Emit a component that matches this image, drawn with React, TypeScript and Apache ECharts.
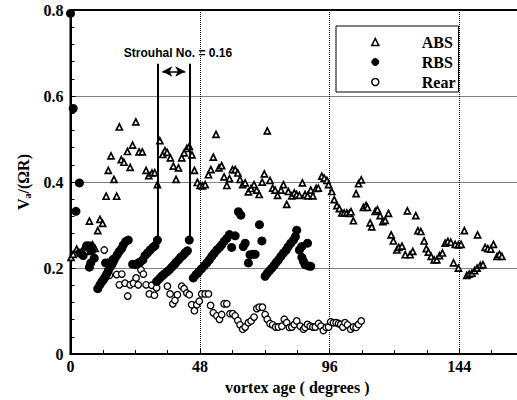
import React, { useEffect, useRef } from "react";
import * as echarts from "echarts";

// vortex age (degrees), Va/(ΩR)
const ABS: [number, number][] = [
  [0.2,0.225],[1.0,0.232],[2.3,0.244],[4.5,0.242],[5.7,0.239],[7.0,0.309],[8.2,0.254],[9.1,0.246],[10.1,0.287],[10.9,0.313],[11.9,0.304],[13.2,0.367],[14.0,0.427],[15.0,0.461],[16.1,0.406],[17.1,0.367],[18.1,0.528],[18.8,0.452],[19.8,0.446],[21.1,0.471],[22.1,0.434],[23.0,0.486],[24.2,0.540],[25.4,0.470],[26.6,0.470],[28.0,0.427],[29.0,0.415],[30.2,0.421],[31.2,0.422],[32.2,0.394],[33.1,0.496],[34.2,0.464],[35.0,0.473],[35.8,0.469],[37.0,0.456],[38.1,0.437],[39.1,0.406],[40.0,0.433],[41.2,0.456],[42.1,0.468],[43.1,0.478],[44.0,0.483],[45.0,0.463],[45.9,0.427],[47.0,0.399],
  [48.0,0.392],[48.9,0.391],[49.9,0.394],[51.1,0.417],[52.0,0.429],[52.9,0.458],[53.9,0.511],[55.0,0.433],[56.0,0.438],[56.9,0.412],[57.9,0.392],[58.9,0.408],[60.0,0.429],[61.0,0.429],[62.0,0.421],[62.8,0.406],[63.8,0.394],[64.7,0.398],[65.9,0.377],[66.9,0.385],[68.0,0.394],[69.0,0.381],[69.9,0.371],[71.0,0.400],[71.8,0.419],[72.9,0.519],[73.9,0.404],[74.9,0.386],[75.8,0.381],[76.7,0.369],[78.0,0.381],[78.9,0.394],[80.1,0.348],[80.7,0.378],[82.0,0.368],[82.9,0.375],[83.8,0.371],[84.8,0.369],[85.9,0.398],[86.9,0.371],[87.8,0.368],[89.0,0.381],[89.8,0.368],[91.0,0.385],[91.8,0.386],[93.1,0.414],[94.0,0.409],[95.0,0.404],[95.6,0.394],
  [96.8,0.378],[97.7,0.359],[98.7,0.345],[99.6,0.338],[100.5,0.328],[101.4,0.328],[102.4,0.328],[103.3,0.327],[103.9,0.331],[104.8,0.310],[105.8,0.373],[106.7,0.396],[107.7,0.405],[108.5,0.341],[109.5,0.346],[110.0,0.341],[111.0,0.305],[111.6,0.296],[112.9,0.332],[113.7,0.336],[114.7,0.322],[115.7,0.308],[116.6,0.311],[117.8,0.327],[118.8,0.277],[119.6,0.263],[120.9,0.242],[121.6,0.248],[122.8,0.251],[124.0,0.231],[124.8,0.333],[125.8,0.231],[126.8,0.239],[127.9,0.322],[128.7,0.287],[129.8,0.285],[131.0,0.263],[131.8,0.245],[132.6,0.237],[133.6,0.227],[134.7,0.219],[135.7,0.219],[136.7,0.229],[137.8,0.235],[138.8,0.258],[139.8,0.262],[140.9,0.260],[141.9,0.212],[142.5,0.255],[143.7,0.254],[143.7,0.200],[144.7,0.255],[145.9,0.287],[146.8,0.183],[147.7,0.186],[148.7,0.188],[149.7,0.194],[150.6,0.200],[150.8,0.277],[151.8,0.206],[152.8,0.208],[153.6,0.248],[154.6,0.245],[155.7,0.244],[156.7,0.255],[158.0,0.227],[158.9,0.232],[159.8,0.227]
];

const RBS: [number, number][] = [
  [0,0.792],[1,0.571],[2.0,0.332],[3.3,0.398],
  [3.5,0.235],[4.7,0.229],[6.0,0.252],[7.0,0.252],[7.9,0.240],[8.8,0.223],[7.5,0.212],[7.0,0.202],
  [10.1,0.152],[10.9,0.161],[11.6,0.168],[12.2,0.173],[12.8,0.179],[13.4,0.186],[14.0,0.194],[14.6,0.202],[15.3,0.208],[15.9,0.215],[16.5,0.223],[17.3,0.231],[18.1,0.239],[19.0,0.246],[19.6,0.254],[20.5,0.262],[21.4,0.265],[13.0,0.212],[14.5,0.213],[15.8,0.220],
  [23.0,0.209],[24.2,0.208],[25.1,0.212],[25.8,0.214],[26.8,0.219],[27.6,0.229],[28.5,0.235],[29.5,0.242],[30.5,0.248],[31.3,0.252],[32.2,0.265],
  [31.9,0.169],[32.9,0.175],[33.8,0.181],[34.7,0.186],[35.7,0.191],[36.6,0.196],[37.5,0.202],[38.4,0.208],[39.1,0.213],[40.0,0.219],[40.8,0.225],[41.6,0.229],[42.4,0.235],[43.3,0.240],[44.0,0.265],
  [45.5,0.177],[46.5,0.185],[47.5,0.191],[48.5,0.198],[49.5,0.205],[50.5,0.212],[51.4,0.219],[52.3,0.227],[53.2,0.234],[54.2,0.242],[55.2,0.248],[56.0,0.254],[56.9,0.262],[57.9,0.269],[58.9,0.278],
  [59.7,0.248],[61.0,0.275],[62.2,0.331],[63.1,0.323],[64.0,0.250],[64.7,0.258],[65.9,0.212],[66.5,0.231],[67.5,0.232],[68.4,0.232],[70.0,0.301],[70.9,0.263],
  [72.1,0.181],[72.9,0.188],[73.7,0.194],[74.6,0.200],[75.4,0.206],[76.2,0.213],[77.0,0.219],[77.9,0.227],[78.9,0.235],[79.9,0.242],[80.7,0.250],[81.6,0.258],[82.6,0.265],[83.3,0.273],
  [83.8,0.288],[84.8,0.242],[85.7,0.250],[87.8,0.258],[85.7,0.225],[86.3,0.216],[86.9,0.208],[88.1,0.205],[89.0,0.204]
];

const REAR: [number, number][] = [
  [12.5,0.242],[14.4,0.183],[17.1,0.185],[19.0,0.186],[18.1,0.161],[20.2,0.165],[21.2,0.135],[22.1,0.161],[23.3,0.165],[24.3,0.177],[25.1,0.161],[26.1,0.196],[27.0,0.186],[28.0,0.161],[29.2,0.140],[30.1,0.160],[31.1,0.137],[31.9,0.154],[35.9,0.158],[36.9,0.140],[37.9,0.117],[38.7,0.125],[39.6,0.138],[41.2,0.158],[42.1,0.152],[43.1,0.142],[44.0,0.138],[44.9,0.115],[45.9,0.101],[46.8,0.115],[47.7,0.123],[48.6,0.140],[49.9,0.140],[51.1,0.140],[51.9,0.113],[52.9,0.096],[54.2,0.089],[55.2,0.081],[56.0,0.092],[56.9,0.117],[57.9,0.117],[59.1,0.094],[60.1,0.094],[61.0,0.089],[62.0,0.078],[62.8,0.068],[63.8,0.058],[64.7,0.063],[65.9,0.073],[66.9,0.077],[68.0,0.086],[69.0,0.106],[69.9,0.109],[71.1,0.109],[72.1,0.092],[72.9,0.081],[73.9,0.071],[74.9,0.068],[76.0,0.063],[77.0,0.063],[78.3,0.065],[79.2,0.081],[80.1,0.073],[81.1,0.062],[82.0,0.063],[82.9,0.069],[83.8,0.077],[85.1,0.065],[86.3,0.058],[86.9,0.062],[87.8,0.069],[88.8,0.065],[89.8,0.063],[90.7,0.063],[91.9,0.071],[92.8,0.065],[93.7,0.055],[94.7,0.062],[95.6,0.063],[96.4,0.075],[97.4,0.073],[98.4,0.073],[99.3,0.071],[100.1,0.069],[100.9,0.063],[101.7,0.073],[102.6,0.068],[103.8,0.058],[104.8,0.063],[105.8,0.062],[106.7,0.069],[107.7,0.077]
];

// Strouhal annotation: two vortex-age marks and their vertical extent
const STROUHAL_X = [32.2, 44.3];
const STROUHAL_Y = [0.265, 0.675];
const STROUHAL_ARROW_Y = 0.657;
const STROUHAL_TEXT = "Strouhal No. = 0.16";

const SERIF = "Liberation Serif";
const SANS = "Liberation Sans";

export default function App() {
  const ref = useRef<HTMLDivElement>(null);
  useEffect(() => {
    if (!ref.current) return;
    const chart = echarts.init(ref.current, null, { renderer: "svg" });
    const lbl = { fontFamily: SERIF, fontWeight: "bold" as const, fontSize: 16, color: "#000" };
    chart.setOption({
      animation: false,
      backgroundColor: "#fff",
      grid: {
        left: 70.5, top: 10, right: 0, bottom: 43.3,
        show: true, borderColor: "#000", borderWidth: 2, backgroundColor: "transparent",
      },
      legend: {
        orient: "vertical",
        left: 336, top: 26,
        padding: [7, 3, 1, 35],
        borderColor: "#000", borderWidth: 1,
        itemWidth: 7, itemHeight: 7, itemGap: 2,
        data: [
          { name: "ABS", icon: "triangle", itemStyle: { color: "#fff", borderColor: "#000", borderWidth: 1.6 } },
          { name: "RBS", icon: "circle", itemStyle: { color: "#000", borderColor: "#000", borderWidth: 1 } },
          { name: "Rear", icon: "circle", itemStyle: { color: "#fff", borderColor: "#000", borderWidth: 1.5 } },
        ],
        textStyle: { ...lbl, lineHeight: 18, padding: [0, 0, 0, 38] },
      },
      xAxis: {
        type: "value",
        min: 0, max: 168, interval: 48,
        name: "vortex age ( degrees )",
        nameLocation: "middle", nameGap: 20,
        nameTextStyle: lbl,
        axisLine: { show: true, lineStyle: { color: "#000", width: 2 } },
        axisTick: { show: true, inside: true, length: 5, lineStyle: { color: "#000", width: 1 } },
        minorTick: { show: true, splitNumber: 4, length: 4, lineStyle: { color: "#000", width: 1 } },
        axisLabel: { ...lbl, margin: 4, showMaxLabel: false },
        splitLine: { show: true, lineStyle: { color: "#000", type: "dotted", width: 1 } },
      },
      yAxis: {
        type: "value",
        min: 0, max: 0.8, interval: 0.2,
        name: "{v|V}{s|a}{v|/(ΩR)}",
        nameLocation: "middle", nameGap: 35, nameRotate: 90,
        nameTextStyle: {
          ...lbl,
          rich: {
            v: { ...lbl, lineHeight: 18 },
            s: { fontFamily: SERIF, fontWeight: "bold", fontSize: 10, color: "#000", verticalAlign: "bottom", lineHeight: 12 },
          },
        },
        axisLine: { show: true, lineStyle: { color: "#000", width: 2 } },
        axisTick: { show: true, inside: true, length: 5, lineStyle: { color: "#000", width: 1 } },
        minorTick: { show: true, splitNumber: 5, length: 4, lineStyle: { color: "#000", width: 1 } },
        axisLabel: { ...lbl, margin: 7, formatter: (v: number) => (v === 0 ? "0" : v.toFixed(1)) },
        splitLine: { show: true, lineStyle: { color: "#000", type: "dotted", width: 1 } },
      },
      graphic: [
        {
          type: "text",
          x: 178, y: 53,
          style: {
            text: STROUHAL_TEXT,
            fill: "#000",
            fontFamily: SANS,
            fontWeight: "bold",
            fontSize: 12,
            textAlign: "center",
            textVerticalAlign: "middle",
          },
          z: 10,
        },
      ],
      series: [
        {
          name: "ABS",
          type: "scatter",
          symbol: "triangle",
          symbolSize: 6,
          clip: false,
          itemStyle: { color: "#fff", borderColor: "#000", borderWidth: 1.7, opacity: 1 },
          data: ABS,
          z: 3,
        },
        {
          name: "Rear",
          type: "scatter",
          symbol: "circle",
          symbolSize: 6.5,
          clip: false,
          itemStyle: { color: "#fff", borderColor: "#000", borderWidth: 1.3, opacity: 1 },
          data: REAR,
          z: 3,
        },
        {
          name: "RBS",
          type: "scatter",
          symbol: "circle",
          symbolSize: 9,
          clip: false,
          itemStyle: { color: "#000", borderColor: "#000", borderWidth: 0, opacity: 1 },
          data: RBS,
          z: 4,
          markLine: {
            silent: true,
            animation: false,
            symbol: ["none", "none"],
            label: { show: false },
            lineStyle: { color: "#000", width: 2, type: "solid" },
            data: [
              [{ coord: [STROUHAL_X[0], STROUHAL_Y[0]] }, { coord: [STROUHAL_X[0], STROUHAL_Y[1]] }],
              [{ coord: [STROUHAL_X[1], STROUHAL_Y[0]] }, { coord: [STROUHAL_X[1], STROUHAL_Y[1]] }],
              [
                { coord: [STROUHAL_X[0] + 1.8, STROUHAL_ARROW_Y], symbol: "arrow", symbolSize: [8, 10], lineStyle: { width: 1.5 } },
                { coord: [STROUHAL_X[1] - 1.8, STROUHAL_ARROW_Y], symbol: "arrow", symbolSize: [8, 10] },
              ],
            ],
          },
        },
      ],
    });
    return () => chart.dispose();
  }, []);
  return (
    <div style={{ position: "absolute", left: 0, top: 0, width: 517, height: 400, overflow: "hidden" }}>
      <div ref={ref} style={{ width: 524, height: 400 }} />
    </div>
  );
}
